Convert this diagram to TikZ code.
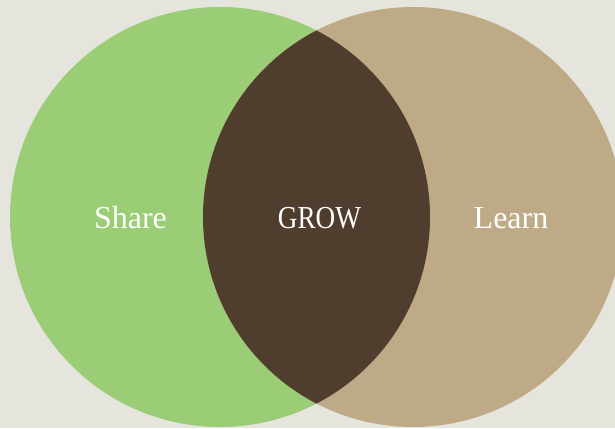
\documentclass[tikz,border=0pt]{standalone}
\usepackage{fontspec}
\setmainfont{Liberation Serif}
\usetikzlibrary{positioning}
\definecolor{bgcol}{HTML}{E5E5DD}
\definecolor{sharegreen}{HTML}{9ACD76}
\definecolor{learntan}{HTML}{BEAA86}
\definecolor{growbrown}{HTML}{4F3D2E}
\tikzstyle{ring} = [circle, minimum size=420pt, inner sep=0pt]
\tikzstyle{word} = [text=white, anchor=base, inner sep=0pt, font=\fontsize{32}{38}\selectfont]

\begin{document}
\begin{tikzpicture}[x=1pt, y=-1pt]

	\fill [bgcol] (0,0) rectangle (615,428);
	\useasboundingbox (0,0) rectangle (615,428);
\node (share) [ring, fill=sharegreen] at (220,217) {};
\node (learn) [ring, fill=learntan] at (413,217) {};
\begin{scope}
	\clip (share.center) circle (210pt);
	\fill [growbrown] (learn.center) circle (210pt);
\end{scope}

\node (sharetxt) [word] at (130.5,228) {Share};
\node (growtxt) [word, xscale=0.85, transform shape] at (319.5,228) {GROW};
\node (learntxt) [word] at (511,228) {Learn};
\end{tikzpicture}
\end{document}
